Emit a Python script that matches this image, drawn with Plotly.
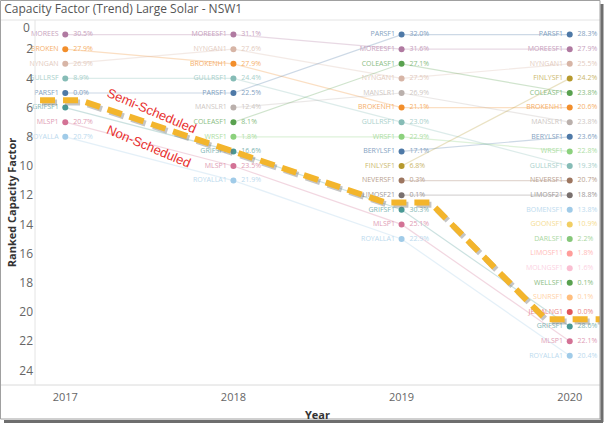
import plotly.graph_objects as go

years = [2017, 2018, 2019, 2020]

units_2017 = ["MOREESF1", "BROKENH1", "NYNGAN1", "GULLRSF1", "PARSF1", "GRIFSF1", "MLSP1", "ROYALLA1"]
shown_2017 = ["MOREES", "BROKEN", "NYNGAN", "GULLRSF", "PARSF1", "GRIFSF1", "MLSP1", "ROYALLA"]
cf_2017 = [30.5, 27.9, 26.9, 8.9, 0.0, None, 20.7, 20.7]

units_2018 = ["MOREESF1", "NYNGAN1", "BROKENH1", "GULLRSF1", "PARSF1", "MANSLR1", "COLEASF1",
              "WRSF1", "GRIFSF1", "MLSP1", "ROYALLA1"]
cf_2018 = [31.1, 27.6, 27.9, 24.4, 22.5, 12.4, 8.1, 1.8, 16.6, 23.5, 21.9]

units_2019 = ["PARSF1", "MOREESF1", "COLEASF1", "NYNGAN1", "MANSLR1", "BROKENH1", "GULLRSF1",
              "WRSF1", "BERYLSF1", "FINLYSF1", "NEVERSF1", "LIMOSF21", "GRIFSF1", "MLSP1", "ROYALLA1"]
cf_2019 = [32.0, 31.6, 27.1, 27.5, 26.9, 21.1, 23.0, 22.9, 17.1, 6.8, 0.3, 0.1, 30.3, 25.1, 22.9]

units_2020 = ["PARSF1", "MOREESF1", "NYNGAN1", "FINLYSF1", "COLEASF1", "BROKENH1", "MANSLR1",
              "BERYLSF1", "WRSF1", "GULLRSF1", "NEVERSF1", "LIMOSF21", "BOMENSF1", "GOONSF1",
              "DARLSF1", "LIMOSF11", "MOLNGSF1", "WELLSF1", "SUNRSF1", "JEMALNG1", "GRIFSF1",
              "MLSP1", "ROYALLA1"]
cf_2020 = [28.3, 27.9, 25.5, 24.2, 23.8, 20.6, 23.8, 23.6, 22.8, 19.3, 20.7, 18.8, 13.8, 10.9,
           2.2, 1.8, 1.6, 0.1, 0.1, 0.0, 28.6, 22.1, 20.4]

rank_ticks = list(range(0, 25, 2))

# hand-drawn boundary between semi-scheduled and non-scheduled units
boundary_year = [2016.85, 2017.09, 2018.905, 2019.17, 2019.857, 2020.18]
boundary_rank = [5.5, 5.5, 12.5, 12.5, 20.5, 20.5]

unit_colors = {
    "MOREESF1": "#B07AA1", "BROKENH1": "#F28E2B", "NYNGAN1": "#D7B5A6", "GULLRSF1": "#86BCB6",
    "PARSF1": "#4E79A7", "GRIFSF1": "#499894", "MLSP1": "#D37295", "ROYALLA1": "#A0CBE8",
    "MANSLR1": "#BAB0AC", "COLEASF1": "#59A14F", "WRSF1": "#8CD17D", "BERYLSF1": "#4E79A7",
    "FINLYSF1": "#B6992D", "NEVERSF1": "#9D7660", "LIMOSF21": "#79706E", "BOMENSF1": "#A0CBE8",
    "GOONSF1": "#F1CE63", "DARLSF1": "#86C77A", "LIMOSF11": "#FF9D9A", "MOLNGSF1": "#FABFD2",
    "WELLSF1": "#59A14F", "SUNRSF1": "#FFBE7D", "JEMALNG1": "#E15759",
}


def lighten(hexc, f=0.2):
    h = hexc.lstrip("#")
    r, g, b = int(h[0:2], 16), int(h[2:4], 16), int(h[4:6], 16)
    r = int(r + (255 - r) * f); g = int(g + (255 - g) * f); b = int(b + (255 - b) * f)
    return f"rgb({r},{g},{b})"


per_year = [
    (2017, units_2017, shown_2017, cf_2017),
    (2018, units_2018, units_2018, cf_2018),
    (2019, units_2019, units_2019, cf_2019),
    (2020, units_2020, units_2020, cf_2020),
]

fig = go.Figure()

# connecting lines per unit
all_units = []
for _, u, _, _ in per_year:
    for name in u:
        if name not in all_units:
            all_units.append(name)

for name in all_units:
    xs, ys = [], []
    for yr, u, _, _ in per_year:
        if name in u:
            xs.append(yr)
            ys.append(u.index(name) + 1)
    if len(xs) > 1:
        fig.add_trace(go.Scatter(x=xs, y=ys, mode="lines", opacity=0.28,
                                 line=dict(color=unit_colors[name], width=1.2),
                                 hoverinfo="skip", showlegend=False))

# markers, names and value labels
for yr, u, shown, cf in per_year:
    ranks = list(range(1, len(u) + 1))
    cols = [unit_colors[n] for n in u]
    tcols = [lighten(unit_colors[n], 0.3) for n in u]
    fig.add_trace(go.Scatter(
        x=[yr] * len(u), y=ranks, mode="markers", marker=dict(size=6, color=cols),
        cliponaxis=False, hoverinfo="skip", showlegend=False))
    fig.add_trace(go.Scatter(
        x=[yr] * len(u), y=ranks, mode="markers+text", text=shown,
        textposition="middle left", textfont=dict(size=7, color=tcols, family="Open Sans"),
        marker=dict(size=9, opacity=0), cliponaxis=False,
        hoverinfo="skip", showlegend=False))
    fig.add_trace(go.Scatter(
        x=[yr] * len(u), y=ranks, mode="markers+text",
        text=["" if v is None else f"{v:.1f}%" for v in cf],
        textposition="middle right", textfont=dict(size=7, color=tcols, family="Open Sans"),
        marker=dict(size=11, opacity=0), cliponaxis=False,
        hoverinfo="skip", showlegend=False))

# boundary dashed line with shadow
fig.add_trace(go.Scatter(
    x=[v + 0.012 for v in boundary_year], y=[v + 0.15 for v in boundary_rank], mode="lines",
    line=dict(color="rgba(110,110,110,0.4)", width=6, dash="15px,8px"),
    hoverinfo="skip", showlegend=False))
fig.add_trace(go.Scatter(
    x=boundary_year, y=boundary_rank, mode="lines",
    line=dict(color="#F3B52C", width=6, dash="15px,8px"),
    hoverinfo="skip", showlegend=False))

fig.add_annotation(x=2017.51, y=6.2, text="Semi-Scheduled", showarrow=False, textangle=23,
                   font=dict(size=13, color="#E8312F", family="Liberation Sans"))
fig.add_annotation(x=2017.50, y=8.66, text="Non-Scheduled", showarrow=False, textangle=23,
                   font=dict(size=13, color="#E8312F", family="Liberation Sans"))
# first tick label sits just inside the top edge, as in the reference
fig.add_annotation(xref="paper", x=0, xanchor="right", xshift=-3, y=rank_ticks[0], yshift=-7,
                   text=str(rank_ticks[0]), showarrow=False,
                   font=dict(size=12, color="#666666", family="Open Sans"))

# frame and separators
L = (0.5 - 35) / 565
R = (600 - 35) / 565
T = (385 - 0.5) / 365
B = (385 - 419) / 365
shapes = [
    dict(type="line", xref="paper", yref="paper", x0=L, x1=R, y0=1, y1=1,
         line=dict(color="#E4E4E4", width=1)),
    dict(type="line", xref="paper", yref="paper", x0=L, x1=R, y0=0, y1=0,
         line=dict(color="#DADADA", width=1)),
    dict(type="line", xref="paper", yref="paper", x0=0, x1=0, y0=0, y1=1,
         line=dict(color="#E4E4E4", width=1)),
    dict(type="rect", xref="paper", yref="paper", x0=L, x1=R, y0=B, y1=T,
         line=dict(color="#A0A0A0", width=1)),
    dict(type="line", xref="paper", yref="paper", x0=(602 - 35) / 565, x1=(602 - 35) / 565,
         y0=(385 - 422) / 365, y1=(385 - 4) / 365, line=dict(color="#6E6E6E", width=3)),
    dict(type="line", xref="paper", yref="paper", x0=(4 - 35) / 565, x1=(603 - 35) / 565,
         y0=(385 - 421.5) / 365, y1=(385 - 421.5) / 365, line=dict(color="#6E6E6E", width=3)),
]

fig.update_layout(
    width=604, height=424,
    margin=dict(l=35, r=4, t=20, b=39, autoexpand=False),
    paper_bgcolor="white", plot_bgcolor="white",
    title=dict(text="Capacity Factor (Trend) Large Solar - NSW1", x=0.007, xanchor="left",
               y=1 - 9 / 424, yanchor="middle",
               font=dict(size=12, color="#555555", family="Open Sans")),
    shapes=shapes,
    xaxis=dict(range=[2016.82, 2020.18], tickmode="array", tickvals=years,
               ticktext=[str(y) for y in years], showgrid=False, zeroline=False,
               tickfont=dict(size=11, color="#666666", family="Open Sans"),
               ticks="", ticklabelstandoff=4,
               title=dict(text="<b>Year</b>", standoff=8,
                          font=dict(size=11, color="#333333", family="Open Sans"))),
    yaxis=dict(range=[25, 0], tickmode="array", tickvals=rank_ticks[1:],
               showgrid=False, zeroline=False,
               tickfont=dict(size=12, color="#666666", family="Open Sans"),
               ticks="", ticklabelstandoff=1,
               title=dict(text="<b>Ranked Capacity Factor</b>", standoff=0,
                          font=dict(size=11, color="#333333", family="Open Sans"))),
)

fig.write_html("out.html", config={"displayModeBar": False},
               post_script="document.body.style.margin='0';document.body.style.padding='0';"
                           "document.body.style.overflow='hidden';")
